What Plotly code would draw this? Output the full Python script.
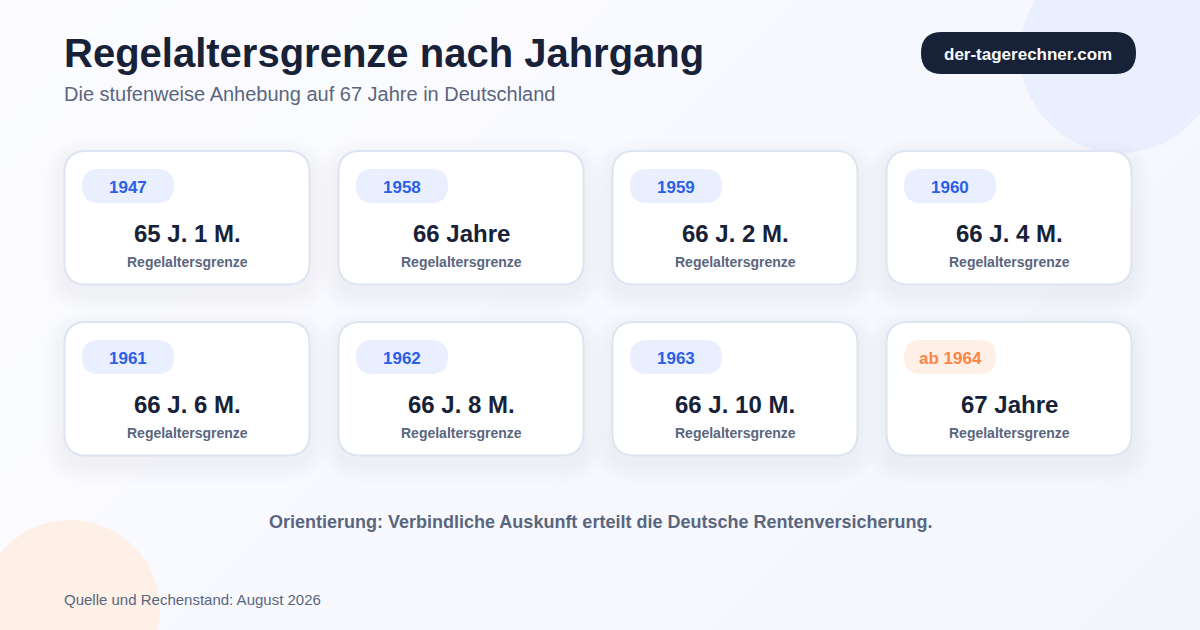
'''Regelaltersgrenze nach Jahrgang - card overview'''
import plotly.graph_objects as go

# card contents
jahrgaenge = ['1947', '1958', '1959', '1960', '1961', '1962', '1963', 'ab 1964']
altersgrenzen = ['65 J. 1 M.', '66 Jahre', '66 J. 2 M.', '66 J. 4 M.',
                 '66 J. 6 M.', '66 J. 8 M.', '66 J. 10 M.', '67 Jahre']
card_label = 'Regelaltersgrenze'

title_text = 'Regelaltersgrenze nach Jahrgang'
subtitle_text = 'Die stufenweise Anhebung auf 67 Jahre in Deutschland'
site_text = 'der-tagerechner.com'
note_text = 'Orientierung: Verbindliche Auskunft erteilt die Deutsche Rentenversicherung.'
source_text = 'Quelle und Rechenstand: August 2026'

FONT = 'Liberation Sans, Arial, sans-serif'
NAVY = '#172238'
SLATE = '#5a667e'
BLUE = '#2a5fe6'
ORANGE = '#fb8544'
BLUE_SOFT = '#e9effe'
ORANGE_SOFT = '#fff0e7'


def rounded(x0, y0, x1, y1, r):
    #svg path of a rounded rectangle
    return (f'M{x0+r},{y0} L{x1-r},{y0} Q{x1},{y0} {x1},{y0+r} L{x1},{y1-r} Q{x1},{y1} {x1-r},{y1} '
            f'L{x0+r},{y1} Q{x0},{y1} {x0},{y1-r} L{x0},{y0+r} Q{x0},{y0} {x0+r},{y0} Z')


def box(x0, y0, x1, y1, r, fill, line=None, width=0):
    return dict(type='path', path=rounded(x0, y0, x1, y1, r), fillcolor=fill,
                line=dict(color=line or fill, width=width), layer='below', xref='x', yref='y')


def label(x, y, text, size, color, bold=False, anchor='center'):
    return dict(x=x, y=y, text=f'<b>{text}</b>' if bold else text, showarrow=False, xanchor=anchor,
                yanchor='middle', xref='x', yref='y', font=dict(family=FONT, size=size, color=color))


def mix(a, b, t):
    return 'rgb({},{},{})'.format(*[round(p + (q - p) * t) for p, q in zip(a, b)])


# diagonal background gradient, each band runs on to the far corner so no seams show
shapes = []
steps = 30
for s in range(steps):
    t = s / (steps - 1)
    col = mix((252, 252, 255), (248, 249, 255), t * 2) if t < 0.5 else mix((248, 249, 255), (242, 246, 252), t * 2 - 1)
    d = 1830 * s / steps
    shapes.append(dict(type='path', path=f'M{d},0 L1200,0 L1200,630 L0,630 L0,{d} Z' if d < 630 else
                       (f'M{d},0 L1200,0 L1200,630 L{max(d-630,0)},630 Z' if d < 1200 else
                        f'M1200,{d-1200} L1200,630 L{d-630},630 Z'),
                       fillcolor=col, line_width=0, layer='below'))

shapes += [
    dict(type='circle', x0=1020, y0=-47, x1=1220, y1=153, fillcolor=BLUE_SOFT, line_width=0, layer='below'),
    dict(type='circle', x0=-20, y0=520, x1=160, y1=700, fillcolor=ORANGE_SOFT, line_width=0, layer='below'),
    box(921, 32, 1136, 74, 21, NAVY),
]
annotations = [
    label(62, 53, title_text, 40, NAVY, bold=True, anchor='left'),
    label(62, 94, subtitle_text, 20, SLATE, anchor='left'),
    label(1028, 54, site_text, 17, '#f8fafc', bold=True),
    label(600, 522, note_text, 18, SLATE, bold=True),
    label(62, 599.5, source_text, 15, SLATE, anchor='left'),
]

# 4 x 2 grid of cards
for i, (jahr, wert) in enumerate(zip(jahrgaenge, altersgrenzen)):
    x = 64 + 274 * (i % 4)
    y = 151 + 171 * (i // 4)
    last = jahr.startswith('ab')
    # soft shadow
    for grow in range(2, 22, 2):
        shapes.append(box(x - grow, y + 8 - grow, x + 246 + grow, y + 134 + 8 + grow, 22 + grow,
                          'rgba(30,50,110,0.0035)'))
    shapes.append(box(x + 0.5, y, x + 245.5, y + 133.5, 22, 'white', '#dde4f2', 2))
    shapes.append(box(x + 18, y + 18, x + 110, y + 52, 17, ORANGE_SOFT if last else BLUE_SOFT))
    annotations.append(label(x + 64, y + 36, jahr, 17, ORANGE if last else BLUE, bold=True))
    annotations.append(label(x + 123, y + 82, wert, 24, NAVY, bold=True))
    annotations.append(label(x + 123, y + 111, card_label, 14, SLATE, bold=True))

fig = go.Figure()
fig.update_layout(
    width=1200, height=630,
    margin=dict(l=0, r=0, t=0, b=0),
    paper_bgcolor='#f8f9ff', plot_bgcolor='rgba(0,0,0,0)',
    showlegend=False,
    shapes=shapes, annotations=annotations,
    xaxis=dict(range=[0, 1200], visible=False, fixedrange=True),
    yaxis=dict(range=[630, 0], visible=False, fixedrange=True),
)
fig.write_html("out.html", config=dict(displayModeBar=False),
               post_script="document.body.style.margin='0';")
